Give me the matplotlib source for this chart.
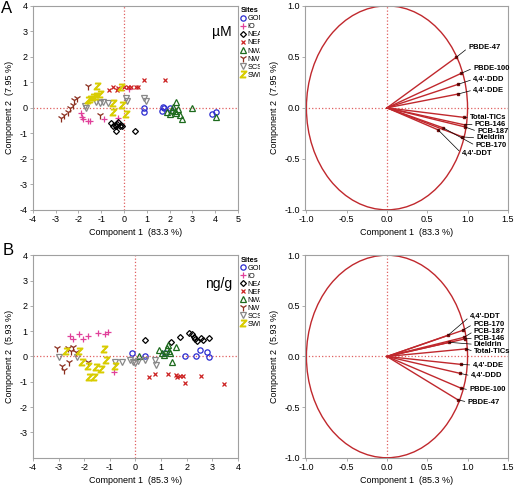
import matplotlib
matplotlib.use('Agg')
import matplotlib.pyplot as plt
from matplotlib.patches import Ellipse, Rectangle

plt.rcParams['font.family'] = ['Liberation Sans', 'DejaVu Sans']
plt.rcParams['axes.unicode_minus'] = False

sites = ['GOM', 'IO', 'NEAO', 'NEPO', 'NWAO', 'NWPO', 'SCS', 'SWPO']

# panel A: scores (uM)
a_x = {
    'GOM': [0.87, 0.88, 1.66, 1.7, 1.74, 2.03, 3.88, 4.04],
    'IO': [-1.88, -1.84, -1.8, -1.59, -1.48, -0.9, -0.26, 0.2],
    'NEAO': [-0.59, -0.48, -0.41, -0.34, -0.29, -0.26, -0.19, -0.12, -0.07, -0.37, 0.46],
    'NEPO': [-0.68, -0.48, -0.32, -0.25, -0.01, 0.18, 0.32, 0.54, 0.62, 0.88, 1.79],
    'NWAO': [1.87, 2.01, 2.09, 2.16, 2.23, 2.26, 2.3, 2.38, 2.45, 2.53, 2.97, 4.02],
    'NWPO': [-2.75, -2.62, -2.48, -2.36, -2.25, -2.2, -2.07, -1.59, -1.07],
    'SCS': [-1.73, -1.69, -1.25, -1.05, -0.93, -0.7, 0.07, 0.15, 0.87, 0.95],
    'SWPO': [-1.59, -1.51, -1.37, -1.25, -1.19, -1.07, -0.48, -0.48, -0.12, -0.09, 0.1],
}
a_y = {
    'GOM': [0.0, -0.17, -0.12, 0.03, 0.0, 0.0, -0.26, -0.16],
    'IO': [-0.21, -0.34, -0.43, -0.5, -0.5, -0.42, -0.4, 0.75],
    'NEAO': [-0.6, -0.73, -0.67, -0.71, -0.63, -0.56, -0.71, -0.68, -0.71, -0.9, -0.9],
    'NEPO': [0.69, 0.82, 0.71, 0.76, 0.81, 0.8, 0.81, 0.81, 0.81, 1.08, 1.11],
    'NWAO': [-0.18, -0.24, -0.08, 0.03, -0.14, 0.22, -0.2, -0.05, -0.27, -0.44, -0.01, -0.37],
    'NWPO': [-0.4, -0.3, -0.15, -0.02, 0.12, 0.3, 0.37, 0.86, -0.28],
    'SCS': [0.08, -0.01, 0.21, 0.18, 0.21, 0.18, 0.38, 0.25, 0.37, 0.25],
    'SWPO': [0.31, 0.35, 0.44, 0.47, 0.86, 0.54, 0.18, -0.18, 0.81, 0.12, -0.24],
}

# panel B: scores (ng/g)
b_x = {
    'GOM': [-0.13, 0.39, 1.15, 1.93, 2.35, 2.52, 2.78, 2.85],
    'IO': [-2.54, -2.44, -2.21, -2.03, -1.84, -1.46, -1.19, -1.07, -0.85],
    'NEAO': [0.39, 1.37, 1.74, 2.08, 2.2, 2.3, 2.33, 2.4, 2.55, 2.65, 2.85],
    'NEPO': [0.51, 0.78, 1.28, 1.6, 1.64, 1.72, 1.84, 1.92, 2.55, 3.44],
    'NWAO': [0.14, 0.93, 1.05, 1.12, 1.22, 1.28, 1.31, 1.36, 1.44, 1.58],
    'NWPO': [-3.07, -2.64, -2.51, -2.42, -2.31, -2.86, -2.78, -2.61, -1.86],
    'SCS': [-2.99, -2.27, -0.81, -0.54, -0.22, -0.09, 0.0, 0.09, 0.37, 0.77, 0.82],
    'SWPO': [-2.71, -2.2, -2.09, -1.86, -1.82, -1.6, -1.53, -1.33, -1.24, -1.16, -0.81],
}
b_y = {
    'GOM': [0.13, 0.0, 0.13, 0.0, 0.0, 0.26, 0.16, -0.03],
    'IO': [0.79, 0.68, 0.88, 0.68, 0.82, 0.91, 0.89, 0.95, -0.63],
    'NEAO': [0.64, 0.59, 0.75, 0.92, 0.88, 0.78, 0.68, 0.6, 0.72, 0.66, 0.72],
    'NEPO': [-0.83, -0.7, -0.7, -0.74, -0.82, -0.77, -0.79, -1.05, -0.79, -1.09],
    'NWAO': [0.03, 0.26, 0.13, 0.05, 0.32, 0.45, 0.22, 0.12, -0.21, 0.39],
    'NWPO': [0.32, 0.35, 0.22, 0.36, 0.16, -0.37, -0.54, -0.21, -0.2],
    'SCS': [-0.04, -0.04, -0.2, -0.2, -0.14, -0.2, -0.26, -0.17, -0.14, -0.13, -0.34],
    'SWPO': [0.22, 0.2, -0.21, -0.39, -0.83, -0.8, -0.43, -0.5, 0.29, -0.13, -0.37],
}

# loadings
a_names = ['PBDE-47', 'PBDE-100', "4,4'-DDD", "4,4'-DDE", 'Total-TICs',
           'PCB-146', 'PCB-187', 'Dieldrin', 'PCB-170', "4,4'-DDT"]
a_lx = [0.86, 0.92, 0.88, 0.88, 0.96, 0.965, 0.967, 0.937, 0.70, 0.635]
a_ly = [0.496, 0.338, 0.23, 0.135, -0.094, -0.167, -0.187, -0.285, -0.197, -0.216]
a_tx = [1.01, 1.07, 1.07, 1.07, 1.03, 1.09, 1.12, 1.11, 1.10, 0.93]
a_ty = [0.59, 0.39, 0.28, 0.175, -0.09, -0.16, -0.23, -0.295, -0.37, -0.45]

b_names = ["4,4'-DDT", 'PCB-170', 'PCB-187', 'PCB-146', 'Dieldrin', 'Total-TICs',
           "4,4'-DDE", "4,4'-DDD", 'PBDE-100', 'PBDE-47']
b_lx = [0.757, 0.94, 0.958, 0.967, 0.773, 0.98, 0.917, 0.909, 0.921, 0.88]
b_ly = [0.209, 0.258, 0.19, 0.174, 0.14, 0.075, -0.078, -0.167, -0.314, -0.428]
b_tx = [1.03, 1.07, 1.08, 1.08, 1.08, 1.08, 1.06, 1.04, 1.02, 1.0]
b_ty = [0.395, 0.32, 0.25, 0.18, 0.12, 0.05, -0.085, -0.19, -0.33, -0.45]

styles = {
    'GOM': dict(marker='o', mfc='none', mec='#2b2bd0', ms=3.8),
    'IO': dict(marker='+', mec='#e0409a', ms=4.5),
    'NEAO': dict(marker='D', mfc='none', mec='black', ms=3.0),
    'NEPO': dict(marker='x', mec='#cc2222', ms=3.5),
    'NWAO': dict(marker='^', mfc='none', mec='#1e6b1e', ms=4.3),
    'NWPO': dict(marker='1', mec='#8b2e1e', ms=5.5),
    'SCS': dict(marker='v', mfc='none', mec='#888888', ms=4.3),
    'SWPO': dict(marker='$Z$', mec='#d8cc00', mfc='#d8cc00', ms=4.8),
}

grey = '#a0a0a0'
red = '#c0282d'

fig = plt.figure(figsize=(5.14, 4.88), dpi=100)
axA = fig.add_axes([0.064, 0.570, 0.399, 0.418])
axA2 = fig.add_axes([0.593, 0.570, 0.395, 0.418])
axB = fig.add_axes([0.064, 0.062, 0.399, 0.415])
axB2 = fig.add_axes([0.593, 0.062, 0.395, 0.415])


def style_axes(ax):
    for s in ax.spines.values():
        s.set_color(grey)
        s.set_linewidth(0.8)
    ax.tick_params(direction='out', length=2.2, width=0.6, color=grey,
                   labelsize=6.5, pad=1.5)


def scatter_panel(ax, xs, ys, xlim, xticks, yticks, xlabel, ylabel, unit, uy):
    for s in sites:
        ax.plot(xs[s], ys[s], ls='none', mew=0.9, label=s, **styles[s])
    ax.axhline(0, color='#e06060', ls=':', lw=0.9, zorder=0)
    ax.axvline(0, color='#e06060', ls=':', lw=0.9, zorder=0)
    ax.set_xlim(*xlim)
    ax.set_ylim(-4, 4)
    ax.set_xticks(xticks)
    ax.set_yticks(yticks)
    ax.set_xlabel(xlabel, fontsize=6.5, labelpad=3)
    ax.set_ylabel(ylabel, fontsize=6.5, labelpad=4)
    ax.text(0.97, uy, unit, transform=ax.transAxes, fontsize=10,
            ha='right', va='center')
    style_axes(ax)
    leg = ax.legend(loc='upper left', bbox_to_anchor=(1.005, 1.0), frameon=False,
                    fontsize=5.3, handlelength=0.6, handletextpad=0.35,
                    labelspacing=0.12, borderpad=0.2, borderaxespad=0,
                    title='Sites', title_fontproperties={'weight': 'bold', 'size': 5.3})
    leg._legend_box.align = 'left'


def loading_panel(ax, names, lx, ly, tx, ty, xlabel, ylabel):
    ax.add_patch(Ellipse((0, 0), 2, 2, fill=False, ec=red, lw=1.0))
    ax.axhline(0, color='#e06060', ls=':', lw=0.9, zorder=0)
    ax.axvline(0, color='#e06060', ls=':', lw=0.9, zorder=0)
    for x, y in zip(lx, ly):
        ax.plot([0, x], [0, y], color=red, lw=1.0)
    ax.plot(lx, ly, ls='none', marker='s', ms=2.0, color='#7a1010')
    for n, x, y, t1, t2 in zip(names, lx, ly, tx, ty):
        ax.annotate(n, xy=(x, y), xytext=(t1, t2), fontsize=5.5, fontweight='bold',
                    va='center', ha='left',
                    arrowprops=dict(arrowstyle='-', color='black', lw=0.5,
                                    relpos=(0, 0.5), shrinkA=0, shrinkB=0))
    ax.set_xlim(-1.02, 1.5)
    ax.set_ylim(-1.0, 1.0)
    ax.set_xticks([-1.0, -0.5, 0.0, 0.5, 1.0, 1.5])
    ax.set_yticks([-1.0, -0.5, 0.0, 0.5, 1.0])
    ax.xaxis.set_major_formatter('{x:.1f}')
    ax.yaxis.set_major_formatter('{x:.1f}')
    ax.set_xlabel(xlabel, fontsize=6.5, labelpad=3)
    ax.set_ylabel(ylabel, fontsize=6.5, labelpad=4)
    style_axes(ax)


scatter_panel(axA, a_x, a_y, (-4, 5), range(-4, 6), range(-4, 5),
              'Component 1  (83.3 %)', 'Component 2  (7.95 %)', 'µM', 0.87)
scatter_panel(axB, b_x, b_y, (-4, 4), range(-4, 5), range(-3, 5),
              'Component 1  (85.3 %)', 'Component 2  (5.93 %)', 'ng/g', 0.86)
loading_panel(axA2, a_names, a_lx, a_ly, a_tx, a_ty,
              'Component 1  (83.3 %)', 'Component 2  (7.95 %)')
loading_panel(axB2, b_names, b_lx, b_ly, b_tx, b_ty,
              'Component 1  (85.3 %)', 'Component 2  (5.93 %)')

# right-hand images sit over the clipped legends
axA.set_zorder(0)
axB.set_zorder(0)
axA2.set_zorder(2)
axB2.set_zorder(2)
fig.patches.append(Rectangle((260 / 514, 0), 1, 1, transform=fig.transFigure,
                             fc='white', ec='none', zorder=1))

fig.text(0.002, 0.998, 'A', fontsize=12, va='top')
fig.text(0.006, 0.503, 'B', fontsize=12, va='top')

fig.savefig('out.png', dpi=100)
